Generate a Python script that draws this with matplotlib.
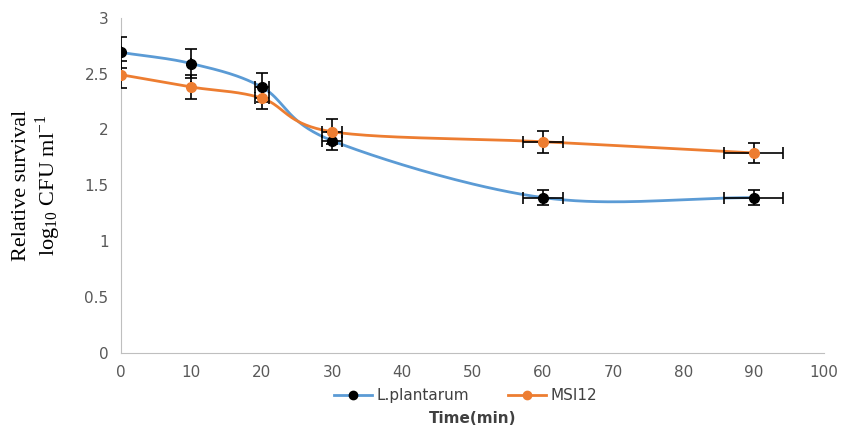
import numpy as np
import matplotlib
matplotlib.use("Agg")
import matplotlib.pyplot as plt

# data
time = [0, 10, 20, 30, 60, 90]
plantarum = [2.69, 2.59, 2.38, 1.90, 1.39, 1.39]
plantarum_yerr = [0.14, 0.13, 0.13, 0.08, 0.07, 0.07]
msi12 = [2.49, 2.38, 2.28, 1.98, 1.89, 1.79]
msi12_yerr = [0.12, 0.11, 0.10, 0.11, 0.10, 0.09]
time_xerr = [0, 0, 1.0, 1.4, 2.8, 4.2]


def smooth(x, y, n=40):
    # Catmull-Rom curve through the points, like Excel's smoothed line
    x = np.asarray(x, float)
    y = np.asarray(y, float)
    px = np.concatenate([[2 * x[0] - x[1]], x, [2 * x[-1] - x[-2]]])
    py = np.concatenate([[2 * y[0] - y[1]], y, [2 * y[-1] - y[-2]]])
    xs, ys = [], []
    t = np.linspace(0, 1, n)
    for i in range(1, len(px) - 2):
        for p, out in ((px, xs), (py, ys)):
            p0, p1, p2, p3 = p[i - 1], p[i], p[i + 1], p[i + 2]
            out.extend(0.5 * ((2 * p1) + (-p0 + p2) * t
                              + (2 * p0 - 5 * p1 + 4 * p2 - p3) * t ** 2
                              + (-p0 + 3 * p1 - 3 * p2 + p3) * t ** 3))
    return xs, ys


plt.rcParams['mathtext.fontset'] = 'stix'
blue = '#5B9BD5'
orange = '#ED7D31'

fig = plt.figure(figsize=(8.41, 4.34), dpi=100)
ax = fig.add_axes([0.144, 0.187, 0.836, 0.772])

sx, sy = smooth(time, plantarum)
ax.plot(sx, sy, color=blue, lw=2, zorder=2)
sx, sy = smooth(time, msi12)
ax.plot(sx, sy, color=orange, lw=2, zorder=3)

ax.errorbar(time, plantarum, yerr=plantarum_yerr, xerr=time_xerr, fmt='none',
            ecolor='black', elinewidth=1.2, capsize=4, capthick=1.2, zorder=4)
ax.errorbar(time, msi12, yerr=msi12_yerr, xerr=time_xerr, fmt='none',
            ecolor='black', elinewidth=1.2, capsize=4, capthick=1.2, zorder=4)
ax.plot(time, plantarum, 'o', color='black', ms=7, zorder=5)
ax.plot(time, msi12, 'o', color=orange, ms=7, zorder=5)

# legend proxies
ax.plot([], [], color=blue, lw=2, marker='o', mfc='black', mec='black', ms=6, label='L.plantarum')
ax.plot([], [], color=orange, lw=2, marker='o', mfc=orange, mec=orange, ms=6, label='MSI12')

ax.set_xlim(0, 100)
ax.set_ylim(0, 3)
ax.set_xticks(range(0, 101, 10))
ax.set_yticks([0, 0.5, 1, 1.5, 2, 2.5, 3])
ax.set_yticklabels(['0', '0.5', '1', '1.5', '2', '2.5', '3'])
ax.tick_params(length=0, labelsize=11, labelcolor='#595959', pad=9)
for s in ['top', 'right']:
    ax.spines[s].set_visible(False)
for s in ['left', 'bottom']:
    ax.spines[s].set_color('#BFBFBF')

ax.set_xlabel('Time(min)', fontsize=11, fontweight='bold', color='#404040', labelpad=22)
fig.text(0.026, 0.574, 'Relative survival', rotation=90, family='Liberation Serif',
         fontsize=16, ha='center', va='center')
fig.text(0.057, 0.574, r'log$_{\mathregular{10}}$ CFU ml$^{\mathregular{-1}}$', rotation=90,
         family='Liberation Serif', fontsize=16, ha='center', va='center')

leg = ax.legend(loc='upper center', bbox_to_anchor=(0.49, -0.065), ncol=2, frameon=False,
                fontsize=11, handlelength=2.5, columnspacing=2.5, handletextpad=0.3)
for t in leg.get_texts():
    t.set_color('#404040')

fig.savefig('out.png', dpi=100)
